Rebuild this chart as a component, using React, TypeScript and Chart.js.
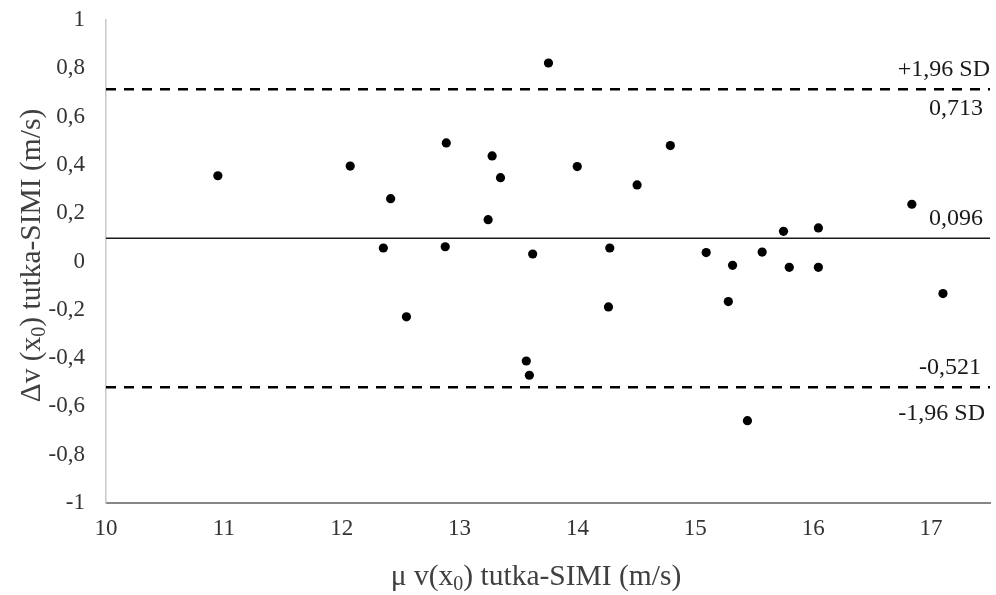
import React, { useEffect, useRef } from "react";
import { Chart, registerables } from "chart.js";

Chart.register(...registerables);

// ---- data ----
const meanSpeed = [
  10.949, 12.072, 12.415, 12.353, 12.549, 12.887, 12.878, 13.276, 13.347, 13.242,
  13.754, 13.62, 13.566, 13.592, 13.998, 14.274, 14.263, 14.506, 14.788, 15.092,
  15.28, 15.316, 15.442, 15.567, 15.748, 15.797, 16.044, 16.044, 16.837, 17.101,
];
const speedDiff = [
  0.355, 0.395, 0.26, 0.056, -0.229, 0.491, 0.061, 0.437, 0.347, 0.173,
  0.822, 0.031, -0.412, -0.471, 0.393, 0.056, -0.188, 0.317, 0.48, 0.037,
  -0.166, -0.016, -0.659, 0.039, 0.125, -0.024, 0.139, -0.024, 0.237, -0.133,
];
const limitLevels = [0.713, 0.096, -0.521];
const limitLabelsAbove = ["+1,96 SD", "0,096", "-0,521"];
const limitLabelsBelow = ["0,713", "", "-1,96 SD"];
const xRange = [10, 17.5];
const yRange = [-1, 1];
const xStep = 1;
const yStep = 0.2;
const xTitleParts = ["\u03bc v(x", "0", ") tutka-SIMI (m/s)"];
const yTitleParts = ["\u0394v (x", "0", ") tutka-SIMI (m/s)"];

const FONT = "'Liberation Serif', 'Times New Roman', serif";

function fmt(v: number): string {
  const r = Math.round(v * 10) / 10;
  return String(r === 0 ? 0 : r).replace(".", ",");
}

function drawParts(ctx: CanvasRenderingContext2D, parts: string[], mainSize: number, subSize: number, subDrop: number) {
  ctx.font = `${mainSize}px ${FONT}`;
  const w0 = ctx.measureText(parts[0]).width;
  const w2 = ctx.measureText(parts[2]).width;
  ctx.font = `${subSize}px ${FONT}`;
  const w1 = ctx.measureText(parts[1]).width;
  const total = w0 + w1 + w2;
  let x = -total / 2;
  ctx.textAlign = "left";
  ctx.textBaseline = "alphabetic";
  ctx.font = `${mainSize}px ${FONT}`;
  ctx.fillText(parts[0], x, 0);
  x += w0;
  ctx.font = `${subSize}px ${FONT}`;
  ctx.fillText(parts[1], x, subDrop);
  x += w1;
  ctx.font = `${mainSize}px ${FONT}`;
  ctx.fillText(parts[2], x, 0);
}

const overlayPlugin = {
  id: "overlay",
  afterDraw(chart: any) {
    const ctx: CanvasRenderingContext2D = chart.ctx;
    const ys = chart.scales.y;
    const area = chart.chartArea;
    ctx.save();
    ctx.fillStyle = "#1a1a1a";
    ctx.font = `24px ${FONT}`;
    ctx.textAlign = "right";
    ctx.textBaseline = "middle";
    const aboveRight = [0, -7, -9];
    const belowRight = [-7, 0, -5];
    const belowDrop = [19, 0, 26];
    limitLevels.forEach((lv, i) => {
      const py = ys.getPixelForValue(lv);
      if (limitLabelsAbove[i]) ctx.fillText(limitLabelsAbove[i], area.right + aboveRight[i], py - 20);
      if (limitLabelsBelow[i]) ctx.fillText(limitLabelsBelow[i], area.right + belowRight[i], py + belowDrop[i]);
    });
    ctx.fillStyle = "#404040";
    ctx.save();
    ctx.translate(536, 585);
    drawParts(ctx, xTitleParts, 29.5, 20, 5);
    ctx.restore();
    ctx.save();
    ctx.translate(40, (area.top + area.bottom) / 2 - 6);
    ctx.rotate(-Math.PI / 2);
    drawParts(ctx, yTitleParts, 29.5, 20, 5);
    ctx.restore();
    ctx.restore();
  },
};

export default function App() {
  const ref = useRef<HTMLCanvasElement>(null);
  useEffect(() => {
    if (!ref.current) return;
    const points = meanSpeed.map((x, i) => ({ x, y: speedDiff[i] }));
    const lineSets = limitLevels.map((lv, i) => ({
      type: "line" as const,
      data: [
        { x: xRange[0], y: lv },
        { x: xRange[1], y: lv },
      ],
      borderColor: i === 1 ? "#1a1a1a" : "#000000",
      borderWidth: i === 1 ? 1.6 : 2.6,
      borderDash: i === 1 ? [] : [10, 8],
      pointRadius: 0,
      showLine: true,
      fill: false,
      order: 2,
    }));
    const chart = new Chart(ref.current, {
      type: "scatter",
      data: {
        datasets: [
          {
            data: points,
            backgroundColor: "#000",
            borderColor: "#000",
            pointRadius: 4.6,
            pointHoverRadius: 4.6,
            borderWidth: 0,
            order: 1,
          } as any,
          ...(lineSets as any[]),
        ],
      },
      options: {
        responsive: false,
        animation: false,
        events: [],
        layout: { padding: { top: 20, right: 6, left: 0, bottom: 0 } },
        plugins: { legend: { display: false }, tooltip: { enabled: false }, title: { display: false } },
        scales: {
          x: {
            type: "linear",
            min: xRange[0],
            max: xRange[1],
            grid: { display: false },
            border: { display: true, color: "#868686", width: 2 },
            ticks: {
              stepSize: xStep,
              includeBounds: false,
              padding: 4,
              color: "#333333",
              font: { family: FONT, size: 23 },
              callback: (v: any) => fmt(Number(v)),
            },
            afterFit: (s: any) => {
              s.height = 92;
              s.paddingLeft = 0;
              s.paddingRight = 0;
            },
          },
          y: {
            type: "linear",
            min: yRange[0],
            max: yRange[1],
            grid: { display: false },
            border: { display: true, color: "#c8c8c8", width: 1.5 },
            ticks: {
              stepSize: yStep,
              padding: 13,
              color: "#333333",
              font: { family: FONT, size: 23 },
              callback: (v: any) => fmt(Number(v)),
            },
            afterFit: (s: any) => {
              s.width = 106;
              s.paddingTop = 0;
              s.paddingBottom = 0;
            },
          },
        },
      },
      plugins: [overlayPlugin],
    });
    return () => chart.destroy();
  }, []);
  return (
    <div style={{ position: "absolute", left: 0, top: 0, width: 996, height: 595, background: "#fff" }}>
      <canvas ref={ref} width={996} height={595} style={{ display: "block" }} />
    </div>
  );
}
